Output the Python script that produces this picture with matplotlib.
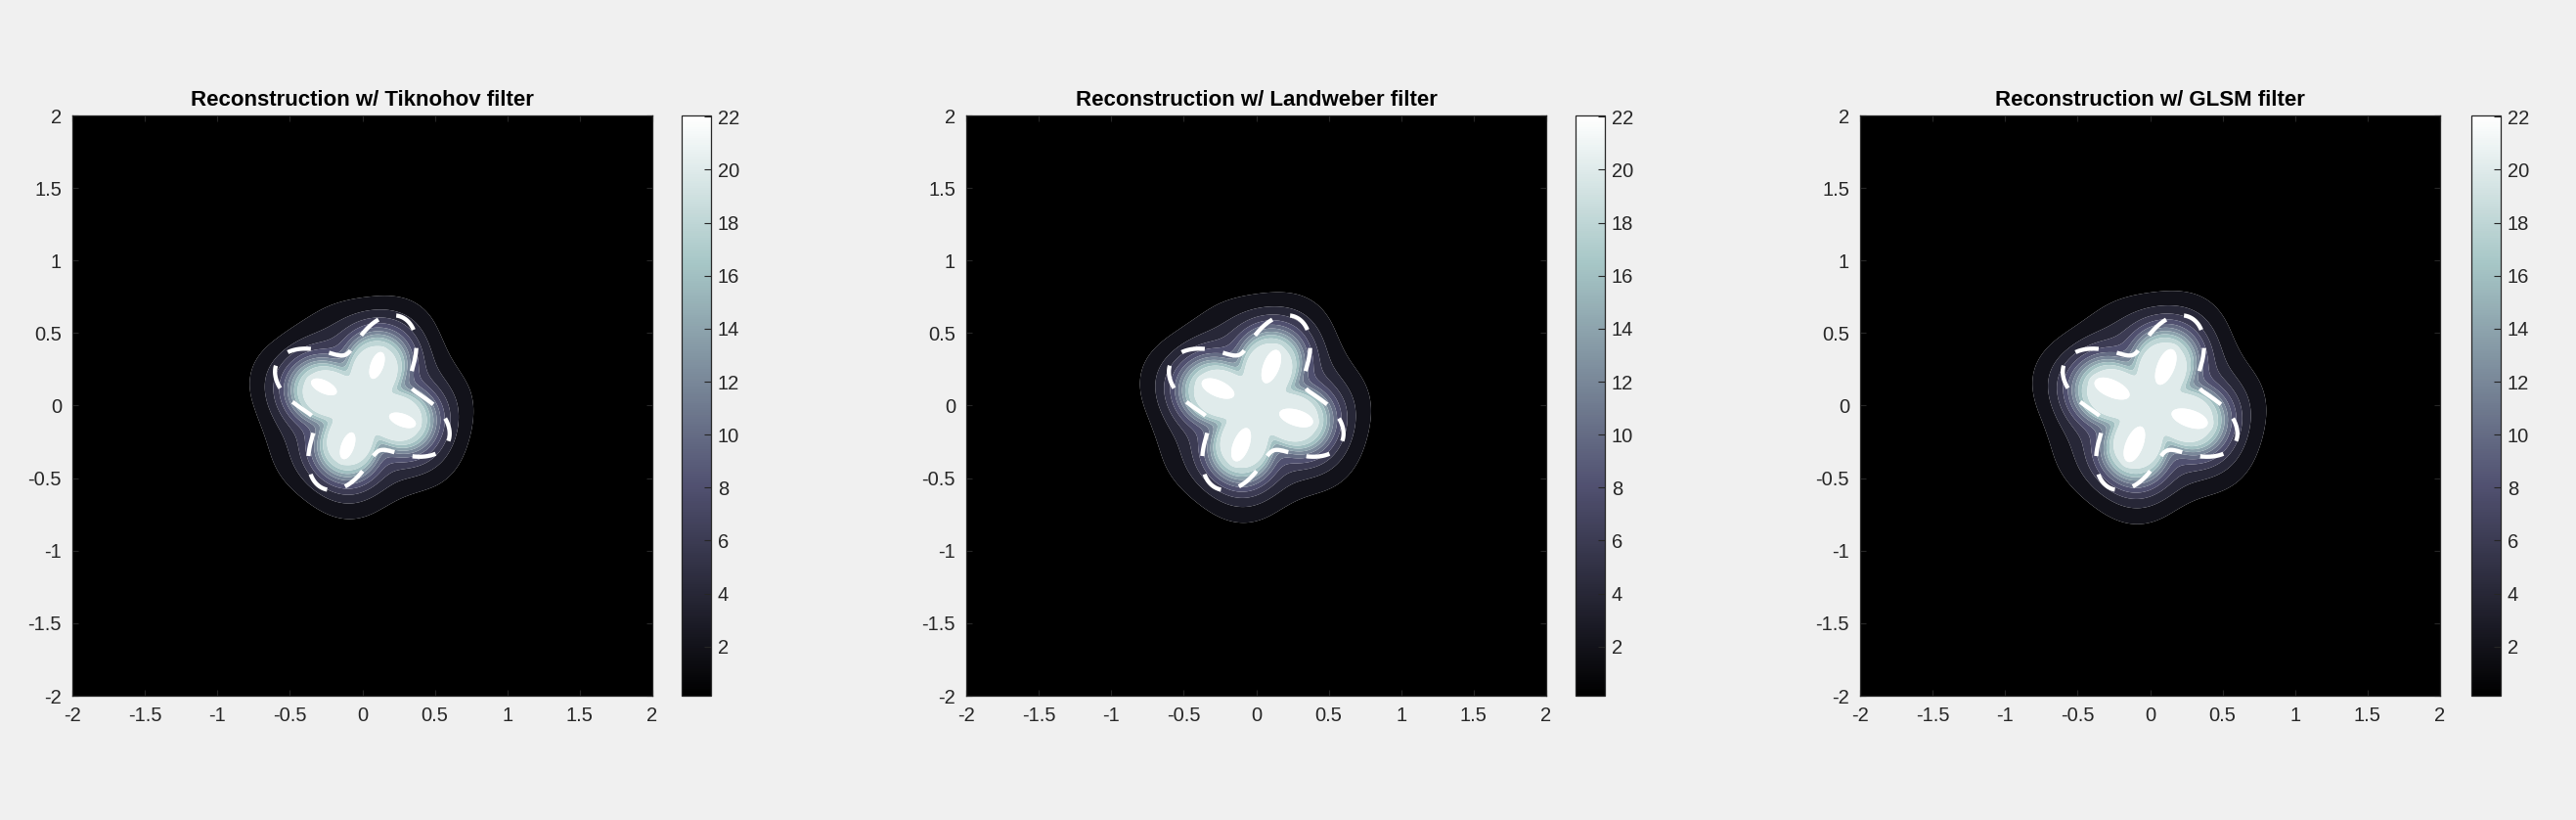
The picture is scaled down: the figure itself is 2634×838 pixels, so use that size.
import numpy as np
import matplotlib
matplotlib.use("Agg")
import matplotlib.pyplot as plt
from matplotlib.colors import Normalize
from matplotlib.cm import ScalarMappable

plt.rcParams['font.family'] = ['Liberation Sans', 'DejaVu Sans']
plt.rcParams['axes.unicode_minus'] = False

# ---------------- data ----------------
titles = ["Reconstruction w/ Tiknohov filter",
          "Reconstruction w/ Landweber filter",
          "Reconstruction w/ GLSM filter"]
contour_levels = [2, 4, 6, 8, 10, 12, 14, 16, 18, 20, 22]
cbar_ticks = [2, 4, 6, 8, 10, 12, 14, 16, 18, 20, 22]
clim = [0.14, 22.05]
axis_ticks = [-2, -1.5, -1, -0.5, 0, 0.5, 1, 1.5, 2]
axis_ticklabels = ["-2", "-1.5", "-1", "-0.5", "0", "0.5", "1", "1.5", "2"]

# indicator field parameters for each reconstruction
plateau_value = [21.2, 21.2, 21.2]
field_knee = [0.392, 0.405, 0.41]
field_decay = [0.152, 0.156, 0.158]
knee_width = [0.03, 0.03, 0.03]
arm_strength = [0.46, 0.48, 0.48]
arm_reach = [0.40, 0.41, 0.41]
arm_floor = [0.04, 0.04, 0.04]
arm_dir_deg = [-20, -19, -19]
ripple_amp = [0.02, 0.02, 0.02]
ripple_dir_deg = [60, 60, 60]
spot_dirs_deg = [[70, 154, 250, 340], [69, 156, 249, 343], [68, 156, 248, 342]]
spot_radius = [0.30, 0.295, 0.295]
spot_len = [0.10, 0.125, 0.135]
spot_wid = [0.044, 0.055, 0.059]
spot_peak = [2.4, 2.4, 2.4]

# true scatterer boundary (star-shaped curve)
boundary_r0 = 0.5
boundary_r1 = 0.15
boundary_rot_deg = 65
boundary_shift = [0.0, 0.02]

# ---------------- figure ----------------
W, H = 2634, 838
fig = plt.figure(figsize=(W / 100, H / 100), dpi=100, facecolor='#f0f0f0')

ax_left_px = [74, 988, 1902]
cb_left_px = [697, 1611, 2527]
ax_top_px, ax_bot_px = 118, 711
ax_w_px = 593
cb_w_px = 30

g = np.linspace(-2, 2, 801)
X, Y = np.meshgrid(g, g)
R = np.hypot(X, Y)
TH = np.arctan2(Y, X)

cmap = plt.get_cmap('bone')
norm = Normalize(vmin=clim[0], vmax=clim[1])
TXT = '#262626'

for i in range(3):
    ax = fig.add_axes([ax_left_px[i] / W, 1 - ax_bot_px / H,
                       ax_w_px / W, (ax_bot_px - ax_top_px) / H])
    cax = fig.add_axes([cb_left_px[i] / W, 1 - ax_bot_px / H,
                        cb_w_px / W, (ax_bot_px - ax_top_px) / H])

    a = arm_strength[i] * np.exp(-(R / arm_reach[i]) ** 2) + arm_floor[i]
    b = ripple_amp[i] * np.clip(R / 0.75, 0, 1) ** 4
    rho = 1 + a * np.cos(4 * (TH - np.deg2rad(arm_dir_deg[i]))) \
        + b * np.cos(7 * (TH - np.deg2rad(ripple_dir_deg[i])))
    q = R / rho
    w = knee_width[i]
    S = (w / field_decay[i]) * np.logaddexp(0, (q - field_knee[i]) / w)
    F = plateau_value[i] * np.exp(-S)
    for d in spot_dirs_deg[i]:
        phi = np.deg2rad(d)
        cx, cy = spot_radius[i] * np.cos(phi), spot_radius[i] * np.sin(phi)
        u = (X - cx) * np.cos(phi) + (Y - cy) * np.sin(phi)
        v = -(X - cx) * np.sin(phi) + (Y - cy) * np.cos(phi)
        e = (u / spot_len[i]) ** 2 + (v / spot_wid[i]) ** 2
        F = F + spot_peak[i] * np.exp(-e ** 2)

    edges = [min(F.min(), 0) - 1] + contour_levels + [max(F.max(), 30) + 1]
    band_vals = [clim[0]] + contour_levels
    band_colors = [cmap(norm(v)) for v in band_vals]
    ax.contourf(X, Y, F, levels=edges, colors=band_colors, antialiased=True)

    t = np.linspace(0, 2 * np.pi, 1441)
    rb = boundary_r0 * (1 + (boundary_r1 / boundary_r0) *
                        np.cos(4 * (t - np.deg2rad(boundary_rot_deg))))
    ax.plot(boundary_shift[0] + rb * np.cos(t), boundary_shift[1] + rb * np.sin(t),
            color='white', lw=3.1, dashes=(5.6, 4.4),
            solid_capstyle='butt', dash_capstyle='butt')

    ax.set_xlim(-2, 2)
    ax.set_ylim(-2, 2)
    ax.set_xticks(axis_ticks)
    ax.set_xticklabels(axis_ticklabels)
    ax.set_yticks(axis_ticks)
    ax.set_yticklabels(axis_ticklabels)
    ax.tick_params(direction='in', length=4.5, width=0.8, color=TXT,
                   labelcolor=TXT, labelsize=14.5, top=True, right=True, pad=8)
    for s in ax.spines.values():
        s.set_color(TXT)
        s.set_linewidth(0.9)
    ax.set_title(titles[i], fontsize=16, fontweight='bold', color='black', pad=7)

    sm = ScalarMappable(norm=norm, cmap=cmap)
    cb = fig.colorbar(sm, cax=cax, ticks=cbar_ticks)
    cb.ax.tick_params(direction='in', length=5, width=0.8, color=TXT,
                      labelcolor=TXT, labelsize=14.5, pad=5)
    cb.outline.set_edgecolor(TXT)
    cb.outline.set_linewidth(0.9)

fig.savefig('out.png', dpi=100, facecolor=fig.get_facecolor())
